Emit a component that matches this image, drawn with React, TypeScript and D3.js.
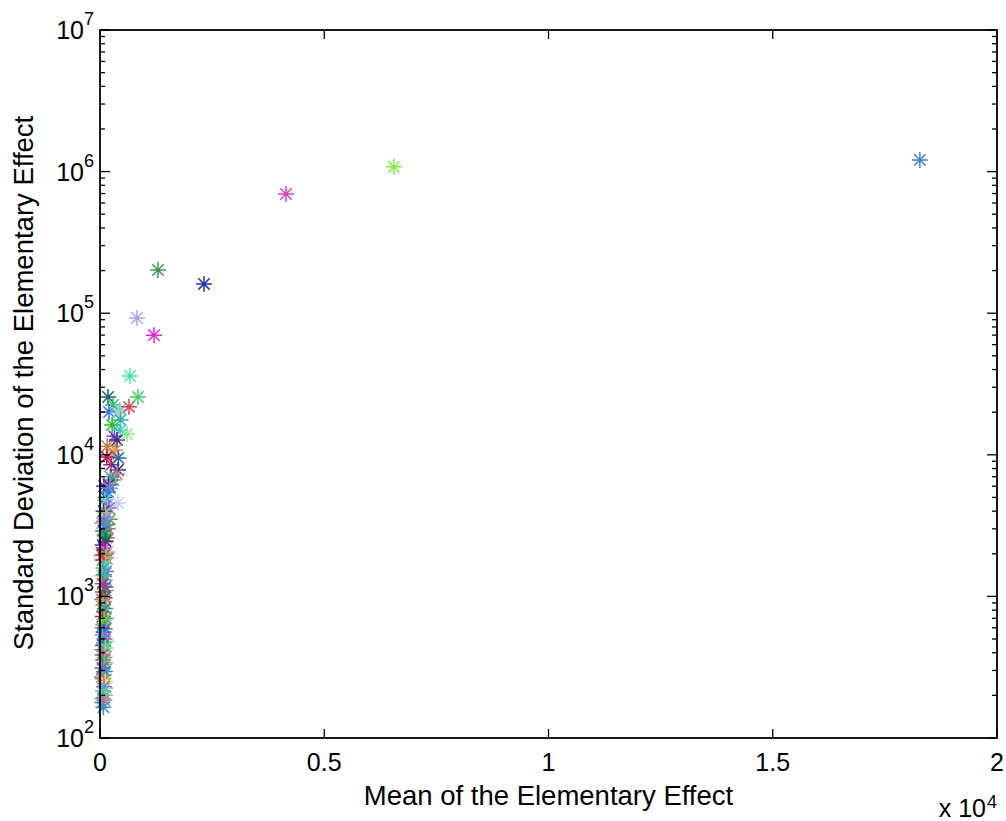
import React from "react";
import * as d3 from "d3";

// Mean of elementary effect (x) and standard deviation (y) for each factor
const meanEE: number[] = [
  18280, 6555, 4147, 1293, 2319, 825, 1204, 669, 847, 647, 602,
  75, 95, 60, 110, 70, 90, 115, 65, 85, 110, 55, 95, 70, 105, 60, 90, 120, 65, 85, 100,
  60, 80, 105, 70, 95, 60, 90, 110, 65, 85, 100, 70, 120, 60, 105, 90, 80, 125, 60, 140,
  95, 160, 80, 60, 125, 105, 70, 140, 95, 160, 120, 80, 200, 400, 110, 180, 220, 190,
  290, 380, 400, 410, 150, 300, 340, 380, 450, 270, 460, 400, 200, 440, 290, 180,
  170, 220, 150, 130, 250, 230, 160, 320, 130, 50, 135, 50, 130, 50, 125, 50, 120,
  45, 125, 50, 130, 45, 130, 50, 160, 90,
];
const stdEE: number[] = [
  1210000, 1080000, 695000, 202000, 161000, 92500, 70000, 36000, 25600, 21800, 14000,
  165, 185, 190, 200, 215, 230, 250, 262, 280, 295, 312, 330, 355, 370, 386, 410, 432,
  450, 469, 500, 534, 561, 590, 628, 681, 720, 776, 820, 869, 920, 980, 1074, 1165,
  1230, 1306, 1420, 1588, 1700, 1808, 1867, 1950, 2058, 2200, 2309, 2450, 2716, 2900,
  3194, 3400, 3637, 3884, 4000, 4210, 4571, 4797, 5460, 5800, 6124, 6642, 7316, 7813,
  9488, 9650, 9970, 10820, 12730, 14970, 16230, 17610, 19730, 20060, 20720, 22480,
  25600, 3000, 3500, 2600, 5000, 8500, 7000, 11500, 13500, 2000, 1400, 1100, 950, 700,
  600, 480, 420, 340, 270, 225, 178, 1500, 1950, 2800, 3300, 4400, 6000,
];
const pointColors: string[] = [
  "#4a7fc4", "#7cf03c", "#e040c0", "#3a9a50", "#2030c0", "#a8a8f0", "#f020d0", "#40f0a0", "#40d060", "#e04050", "#80f080",
  "#3d8fd0", "#d070a0", "#50b0a0", "#7acf6a", "#30c8c8", "#8a6ad8", "#f0e040", "#e06080", "#30b0b0", "#4080e0", "#9040c0",
  "#60d060", "#30a060", "#f070c0", "#e05050", "#50d0a0", "#90e070", "#4060c0", "#40b090", "#c040c0", "#20c0e0", "#3050d0",
  "#8060b0", "#40d040", "#70e030", "#c03060", "#50c070", "#2080c0", "#a0c040", "#e08040", "#6040a0", "#806040", "#8040c0",
  "#d04080", "#40c080", "#30a0d0", "#40b0a0", "#60d0e0", "#e03040", "#e0a020", "#20a050", "#f080f0", "#c02080", "#5030c0",
  "#106030", "#20a040", "#4070d0", "#40a0a0", "#a060e0", "#80b0e0", "#c0c040", "#2050a0", "#a060e0", "#c0d0f0", "#60d0c0",
  "#3080e0", "#8090d0", "#702080", "#40a080", "#d08080", "#1030a0", "#2070b0", "#c01050", "#f0a060", "#e09050", "#403090",
  "#40c0e0", "#20c020", "#30b0b0", "#b0d0b0", "#3070f0", "#60d0d0", "#30c060", "#206070", "#e06060", "#70a030", "#d050d0",
  "#4040a0", "#a03080", "#60a0e0", "#c08040", "#9040d0", "#2080d0", "#d0d040", "#60c060", "#c050a0", "#40a0d0", "#e08080",
  "#50e0b0", "#8080e0", "#e0a0c0", "#60a060", "#a0d0e0", "#4090a0", "#b040e0", "#f04060", "#40e080", "#a0a0a0", "#e0b0e0",
  "#6030c0",
];

const xTicks: number[] = [0, 5000, 10000, 15000, 20000];
const xTickLabels: string[] = ["0", "0.5", "1", "1.5", "2"];
const yExponents: number[] = [2, 3, 4, 5, 6, 7];
const xLabel = "Mean of the Elementary Effect";
const yLabel = "Standard Deviation of the Elementary Effect";

const W = 1006;
const H = 821;
const L = 100;
const R = 997;
const T = 30;
const B = 738;
const FONT = "'Liberation Sans', Arial, Helvetica, sans-serif";

export default function App() {
  const x = d3.scaleLinear().domain([0, 20000]).range([L, R]);
  const y = d3.scaleLog().domain([100, 1e7]).range([B, T]);

  const minorTicks: number[] = [];
  for (let e = 2; e < 7; e++) {
    for (let m = 2; m <= 9; m++) minorTicks.push(m * Math.pow(10, e));
  }

  const r = 8;
  const dg = 5.7;
  const star = `M${-r},0L${r},0M0,${-r}L0,${r}M${-dg},${-dg}L${dg},${dg}M${-dg},${dg}L${dg},${-dg}`;

  const pts = meanEE.map((m, i) => ({ m, s: stdEE[i], c: pointColors[i % pointColors.length] }));

  return (
    <svg
      width={W}
      height={H}
      style={{ position: "absolute", left: 0, top: 0, background: "#fff" }}
      fontFamily={FONT}
    >
      <rect x={0} y={0} width={W} height={H} fill="#fff" />
      {/* points, drawn in reverse so outliers are on top */}
      <g>
        {pts
          .slice()
          .reverse()
          .map((p, i) => (
            <path
              key={i}
              d={star}
              transform={`translate(${x(p.m)},${y(p.s)})`}
              stroke={p.c}
              strokeWidth={1.5}
              fill="none"
            />
          ))}
      </g>
      {/* ticks */}
      <g stroke="#000" strokeWidth={1.3}>
        {xTicks.map((t, i) => (
          <g key={"xt" + i}>
            <line x1={x(t)} x2={x(t)} y1={B} y2={B - 9} />
            <line x1={x(t)} x2={x(t)} y1={T} y2={T + 9} />
          </g>
        ))}
        {yExponents.map((e, i) => (
          <g key={"yt" + i}>
            <line x1={L} x2={L + 10} y1={y(Math.pow(10, e))} y2={y(Math.pow(10, e))} />
            <line x1={R} x2={R - 10} y1={y(Math.pow(10, e))} y2={y(Math.pow(10, e))} />
          </g>
        ))}
        {minorTicks.map((t, i) => (
          <g key={"ym" + i}>
            <line x1={L} x2={L + 5} y1={y(t)} y2={y(t)} />
            <line x1={R} x2={R - 5} y1={y(t)} y2={y(t)} />
          </g>
        ))}
      </g>
      {/* box */}
      <rect x={L} y={T} width={R - L} height={B - T} fill="none" stroke="#000" strokeWidth={1.8} />
      {/* x tick labels */}
      <g fontSize={25} fill="#000" textAnchor="middle">
        {xTicks.map((t, i) => (
          <text key={"xl" + i} x={x(t)} y={771}>
            {xTickLabels[i]}
          </text>
        ))}
      </g>
      {/* y tick labels */}
      <g fill="#000">
        {yExponents.map((e, i) => (
          <text key={"yl" + i} x={84} y={y(Math.pow(10, e)) + 9} textAnchor="end" fontSize={25}>
            10
          </text>
        ))}
        {yExponents.map((e, i) => (
          <text key={"ye" + i} x={84} y={y(Math.pow(10, e)) - 5} textAnchor="start" fontSize={18}>
            {e}
          </text>
        ))}
      </g>
      {/* x multiplier */}
      <text x={986} y={817} textAnchor="end" fontSize={25} fill="#000">
        x 10
      </text>
      <text x={987} y={808} fontSize={18} fill="#000">
        4
      </text>
      {/* axis labels */}
      <text x={(L + R) / 2} y={805} textAnchor="middle" fontSize={27.5} fill="#000">
        {xLabel}
      </text>
      <text
        transform={`translate(33,${(T + B) / 2 - 1}) rotate(-90)`}
        textAnchor="middle"
        fontSize={27.5}
        fill="#000"
      >
        {yLabel}
      </text>
    </svg>
  );
}
